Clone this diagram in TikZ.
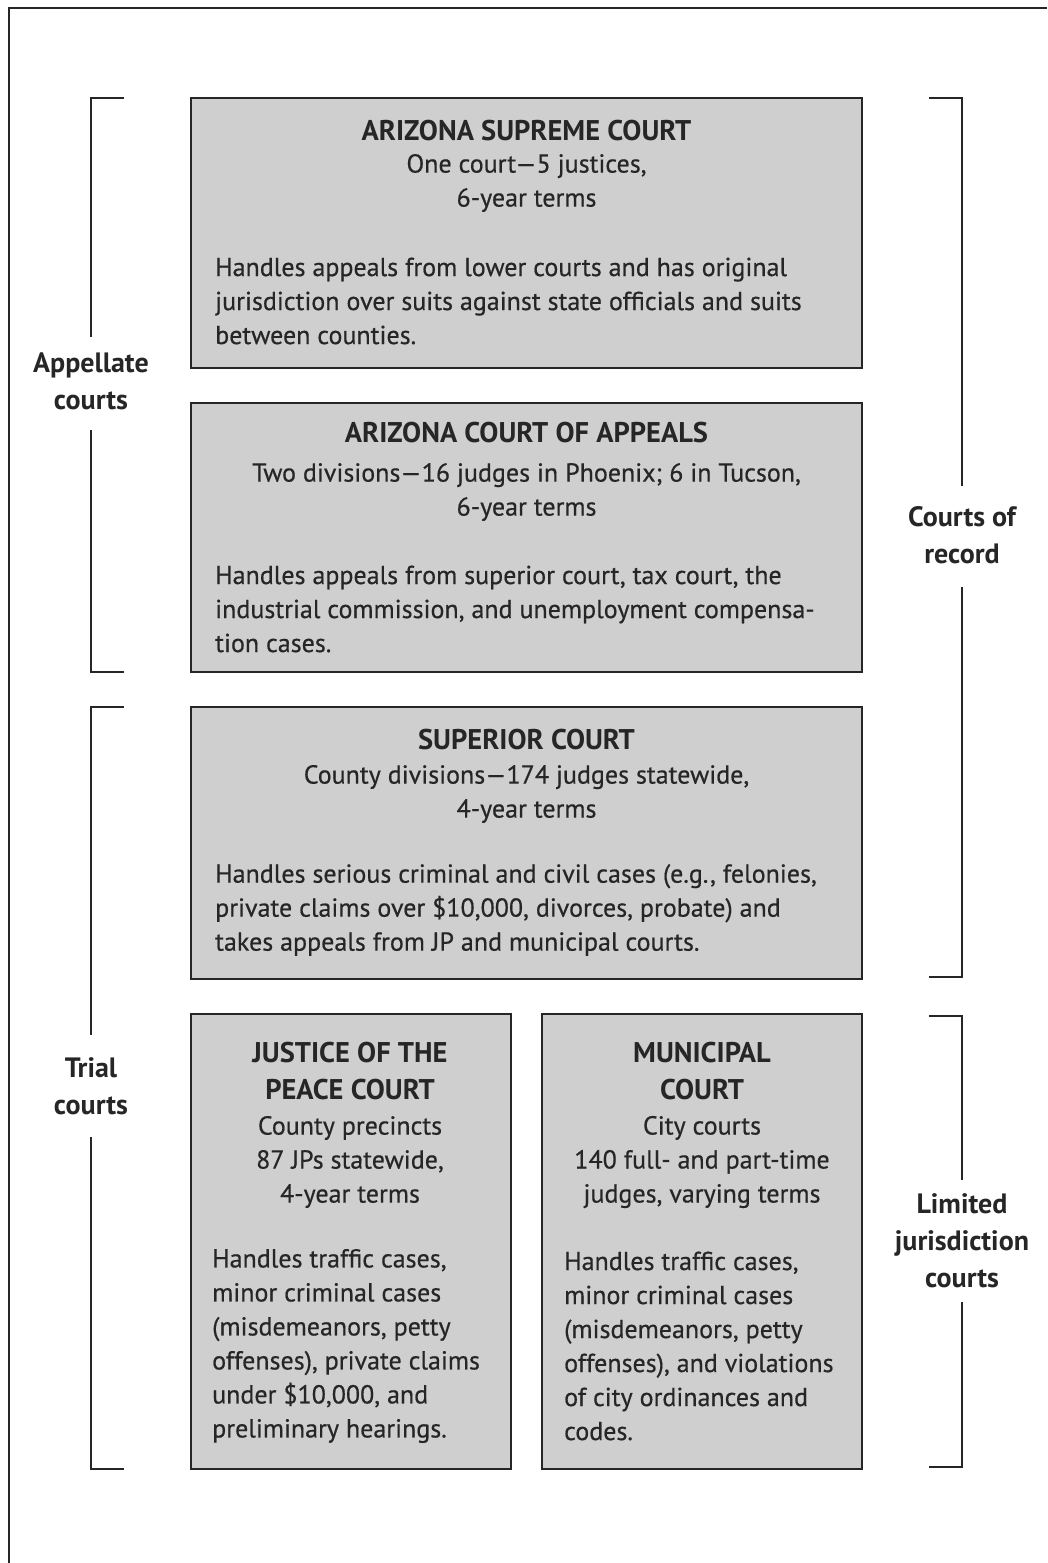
\documentclass[tikz,border=0pt]{standalone}
\usepackage{fontspec}
\setmainfont{PT Sans}
\newfontfamily\reg[FakeBold=0.5,Ligatures=TeX]{PT Sans}
\begin{document}
\begin{tikzpicture}[x=1pt,y=-1pt,
  courtbox/.style={draw=black!85,line width=1.6pt,fill=black!19,inner sep=0pt},
  frameline/.style={draw=black!85,line width=2pt},
  bracketline/.style={draw=black!85,line width=1.6pt},
  title/.style={font=\fontsize{28.5}{37}\selectfont\bfseries,align=center,text=black!85,inner sep=0pt},
  sub/.style={font=\reg\fontsize{26}{34}\selectfont,align=center,text=black!85,inner sep=0pt},
  desc/.style={font=\reg\fontsize{26}{34}\selectfont,align=left,text=black!85,anchor=west,inner sep=0pt},
  side/.style={font=\fontsize{28}{37}\selectfont\bfseries,align=center,text=black!85}]
\useasboundingbox (0,0) rectangle (1047,1563);
% outer frame (partial)
\coordinate (fa) at (9,1563);
\coordinate (fb) at (9,8);
\coordinate (fc) at (1047,8);
\draw[frameline] (fa) -- (fb) -- (fc);
% boxes
\node[courtbox,minimum width=671pt,minimum height=270pt] (sup) at (526.5,233) {};
\node[courtbox,minimum width=671pt,minimum height=269pt] (app) at (526.5,537.5) {};
\node[courtbox,minimum width=671pt,minimum height=272pt] (supc) at (526.5,843) {};
\node[courtbox,minimum width=320pt,minimum height=455pt] (jp) at (351,1241.5) {};
\node[courtbox,minimum width=320pt,minimum height=455pt] (mun) at (702,1241.5) {};
% supreme court text
\node[title] (t1) at (526.5,131) {ARIZONA SUPREME COURT};
\node[sub] (s1) at (526.5,183) {One court—5 justices,\\6-year terms};
\node[desc] (d1) at (215,301) {Handles appeals from lower courts and has original\\jurisdiction over suits against state officials and suits\\between counties.};
% court of appeals
\node[title] (t2) at (526.5,433) {ARIZONA COURT OF APPEALS};
\node[sub] (s2) at (526.5,492) {Two divisions—16 judges in Phoenix; 6 in Tucson,\\6-year terms};
\node[desc] (d2) at (215,609) {Handles appeals from superior court, tax court, the\\industrial commission, and unemployment compensa-\\tion cases.};
% superior court
\node[title] (t3) at (526.5,740) {SUPERIOR COURT};
\node[sub] (s3) at (526.5,794) {County divisions—174 judges statewide,\\4-year terms};
\node[desc] (d3) at (215,910) {Handles serious criminal and civil cases (e.g., felonies,\\private claims over \$10,000, divorces, probate) and\\takes appeals from JP and municipal courts.};
% JP
\node[title] (t4) at (350,1071) {JUSTICE OF THE\\PEACE COURT};
\node[sub] (s4) at (350,1162) {County precincts\\87 JPs statewide,\\4-year terms};
\node[desc] (d4) at (212,1346) {Handles traffic cases,\\minor criminal cases\\(misdemeanors, petty\\offenses), private claims\\under \$10,000, and\\preliminary hearings.};
% municipal
\node[title] (t5) at (702,1071) {MUNICIPAL\\COURT};
\node[sub] (s5) at (702,1162) {City courts\\140 full- and part-time\\judges, varying terms};
\node[desc] (d5) at (564,1346) {Handles traffic cases,\\minor criminal cases\\(misdemeanors, petty\\offenses), and violations\\of city ordinances and\\codes.};
% side labels
\node[side] (la) at (91,381) {Appellate\\courts};
\node[side] (lt) at (91,1086) {Trial\\courts};
\node[side] (lr) at (962,535) {Courts of\\record};
\node[side] (ll) at (962,1241) {Limited\\jurisdiction\\courts};
% brackets
\coordinate (a1) at (124,98); \coordinate (a2) at (91,98); \coordinate (a3) at (91,337);
\coordinate (a4) at (91,430); \coordinate (a5) at (91,672); \coordinate (a6) at (124,672);
\draw[bracketline] (a1) -- (a2) -- (a3);
\draw[bracketline] (a4) -- (a5) -- (a6);
\coordinate (b1) at (124,707); \coordinate (b2) at (91,707); \coordinate (b3) at (91,1035);
\coordinate (b4) at (91,1137); \coordinate (b5) at (91,1469); \coordinate (b6) at (124,1469);
\draw[bracketline] (b1) -- (b2) -- (b3);
\draw[bracketline] (b4) -- (b5) -- (b6);
\coordinate (c1) at (929,98); \coordinate (c2) at (962,98); \coordinate (c3) at (962,486);
\coordinate (c4) at (962,587); \coordinate (c5) at (962,977); \coordinate (c6) at (929,977);
\draw[bracketline] (c1) -- (c2) -- (c3);
\draw[bracketline] (c4) -- (c5) -- (c6);
\coordinate (e1) at (929,1016); \coordinate (e2) at (962,1016); \coordinate (e3) at (962,1180);
\coordinate (e4) at (962,1302); \coordinate (e5) at (962,1467); \coordinate (e6) at (929,1467);
\draw[bracketline] (e1) -- (e2) -- (e3);
\draw[bracketline] (e4) -- (e5) -- (e6);
\end{tikzpicture}
\end{document}
